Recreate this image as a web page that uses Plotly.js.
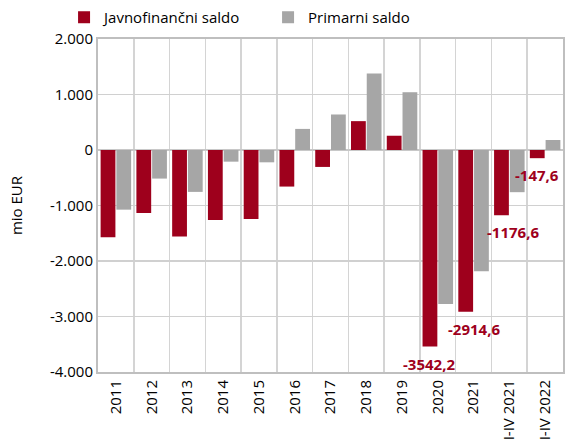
<!DOCTYPE html>
<html>
<head>
<meta charset="utf-8">
<script src="https://cdn.plot.ly/plotly-3.0.1.min.js"></script>
<style>html,body{margin:0;padding:0;background:#fff;}#chart{width:565px;height:440px;}</style>
</head>
<body>
<div id="chart"></div>
<script>
const categories = ["2011","2012","2013","2014","2015","2016","2017","2018","2019","2020","2021","I-IV 2021","I-IV 2022"];
const javnofinancni = [-1570,-1135,-1560,-1262,-1245,-659,-305,520,257,-3542.2,-2914.6,-1176.6,-147.6];
const primarni = [-1075,-515,-755,-210,-222,380,640,1377,1041,-2777,-2185,-760,180];
const yTickVals = [2000,1000,0,-1000,-2000,-3000,-4000];
const yTickText = ["2.000","1.000","0","-1.000","-2.000","-3.000","-4.000"];
const labelCats = ["2020","2021","I-IV 2021","I-IV 2022"];
const labelVals = [-3542.2,-2914.6,-1176.6,-147.6];
const labelText = ["-3542,2","-2914,6","-1176,6","-147,6"];
const labelXShift = [-9,0,4,-8];

const RED = "#9e001c", GRAY = "#a6a6a6", FONT = "Open Sans";

const traces = [
  {type:"bar", name:"Javnofinančni saldo", x:categories, y:javnofinancni, marker:{color:RED}},
  {type:"bar", name:"Primarni saldo", x:categories, y:primarni, marker:{color:GRAY}}
];

const annotations = labelCats.map((c,i)=>({
  x:categories.indexOf(c), y:labelVals[i], xref:"x", yref:"y", text:"<b>"+labelText[i]+"</b>",
  showarrow:false, xanchor:"center", yanchor:"middle", xshift:labelXShift[i], yshift:-17,
  font:{family:FONT, size:15, color:RED}
}));

const layout = {
  width:565, height:440,
  margin:{l:98, r:2, t:38, b:68},
  paper_bgcolor:"#fff", plot_bgcolor:"#fff",
  font:{family:FONT, size:15, color:"#000"},
  barmode:"group", bargap:0.12, bargroupgap:0.06,
  showlegend:true,
  legend:{orientation:"h", x:-0.073, xanchor:"left", y:1.012, yanchor:"bottom",
          font:{family:FONT, size:15, color:"#000"}, entrywidth:159, entrywidthmode:"pixels",
          itemwidth:30, bgcolor:"rgba(0,0,0,0)"},
  xaxis:{type:"category", categoryorder:"array", categoryarray:categories, range:[-0.5, categories.length-0.5],
         tickson:"boundaries", showgrid:true, gridcolor:"#d4d4d4", gridwidth:1.5,
         showline:true, linecolor:"#bfbfbf", linewidth:2, mirror:true, ticks:"", tickangle:-90,
         tickfont:{family:FONT, size:15, color:"#000"}, automargin:false},
  yaxis:{range:[-4000,2000], tickvals:yTickVals, ticktext:yTickText, showgrid:true, gridcolor:"#d0d0d0", gridwidth:1.5,
         zeroline:true, zerolinecolor:"#c8c8c8", zerolinewidth:1.5,
         showline:true, linecolor:"#bfbfbf", linewidth:2, mirror:true, ticks:"", ticklen:0,
         tickfont:{family:FONT, size:15, color:"#000"},
         title:{text:"mio EUR", font:{family:FONT, size:15, color:"#000"}, standoff:24}, automargin:false},
  annotations:annotations
};

Plotly.newPlot("chart", traces, layout, {displayModeBar:false, staticPlot:true});
</script>
</body>
</html>
